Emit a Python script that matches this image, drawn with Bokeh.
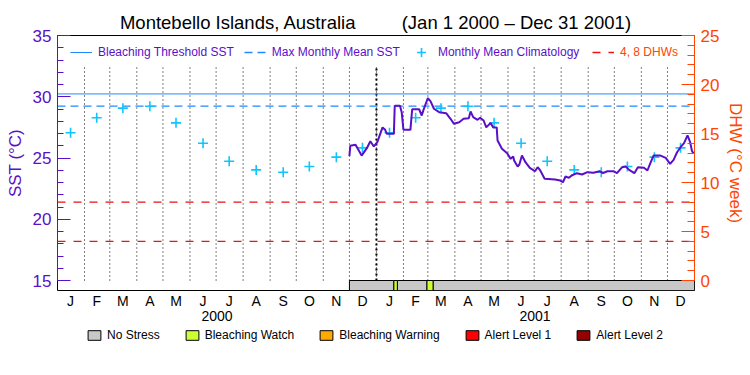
import pandas as pd
from bokeh.plotting import figure
from bokeh.layouts import column
from bokeh.models import (Range1d, LinearAxis, FixedTicker, Legend, LegendItem,
                          ColumnDataSource, Title)
from bokeh.embed import file_html
from bokeh.resources import INLINE

# ---------------- data ----------------
month_letters = ["J", "F", "M", "A", "M", "J", "J", "A", "S", "O", "N", "D"]
year_labels = ["2000", "2001"]
clim_sst = [27.06, 28.28, 29.07, 29.23, 27.87, 26.21, 24.74, 24.03, 23.84, 24.31, 25.07, 25.83]
mmm_sst = 29.23
threshold_sst = 30.23
dhw_levels = [4, 8]

# days since 2000-01-01 and SST (deg C)
sst_day = [335, 336, 342, 349, 355, 359, 363, 367, 373, 376, 378, 386, 387, 393, 395, 397,
           405, 407, 415, 418, 420, 425, 428, 432, 438, 446, 451, 455, 461, 466, 472, 474,
           477, 482, 485, 489, 492, 497, 500, 504, 505, 510, 516, 520, 523, 524, 528, 530,
           533, 537, 542, 548, 551, 554, 559, 571, 577, 580, 583, 587, 590, 596, 602, 608,
           615, 622, 626, 631, 638, 642, 648, 652, 656, 662, 666, 673, 677, 680, 684, 692,
           698, 703, 707, 711, 715, 719, 723, 726, 728, 730]
sst_val = [25.15, 26.00, 26.08, 25.20, 25.80, 26.37, 25.94, 26.30, 27.50, 27.30, 26.97, 26.97,
           29.26, 29.26, 28.74, 27.30, 27.30, 28.98, 28.98, 28.47, 28.93, 29.88, 29.64, 29.02,
           28.74, 28.66, 28.20, 27.79, 27.92, 28.20, 28.25, 28.80, 28.33, 28.12, 28.28, 28.06,
           27.50, 27.85, 27.50, 27.50, 26.43, 25.75, 25.39, 24.93, 25.12, 24.80, 24.30, 24.47,
           25.20, 24.66, 24.20, 23.92, 24.25, 23.98, 23.30, 23.24, 23.16, 23.02, 23.49, 23.38,
           23.57, 23.76, 23.65, 23.84, 23.80, 23.92, 23.76, 23.92, 23.92, 23.76, 24.25, 24.30,
           24.03, 23.76, 24.25, 24.20, 23.98, 24.52, 25.20, 25.20, 25.01, 24.52, 24.85, 25.47,
           25.88, 26.21, 26.84, 26.30, 25.60, 25.34]

stress_start = [335, 386, 390, 424, 431]
stress_end = [386, 390, 424, 431, 731]
stress_level = [0, 1, 0, 1, 0]
stress_names = ["No Stress", "Bleaching Watch", "Bleaching Warning", "Alert Level 1", "Alert Level 2"]
stress_colors = ["#C8C8C8", "#CCFF33", "#FFAA00", "#FF0000", "#960000"]

# ---------------- calendar helpers ----------------
base = pd.Timestamp("2000-01-01")
mstarts = pd.date_range("2000-01-01", periods=25, freq="MS")
mdays = [(d - base).days for d in mstarts]
mid_days = [mdays[i] + (mdays[i + 1] - mdays[i]) // 2 for i in range(24)]
boundaries = mdays[1:24]
ystarts = [(pd.Timestamp(y + "-01-01") - base).days for y in ["2000", "2001", "2002"]]
year_mid = [(ystarts[i] + ystarts[i + 1]) // 2 for i in range(2)]
x_end = mdays[24]

# ---------------- styling ----------------
PURPLE = "#5A0FC8"
ORANGE = "#FF4500"
BLUE = "#1E8CFF"
CYAN = "#10C4FF"
RED = "#EE1111"
FONT = "Liberation Sans"

px_per_deg = 245 / 20.0
y_bottom = 15 - 10 / px_per_deg

p = figure(width=750, height=325, x_range=Range1d(0, x_end), y_range=Range1d(y_bottom, 35),
           output_backend="svg", toolbar_location=None, x_axis_type=None, y_axis_type=None,
           min_border_left=57, min_border_right=56, min_border_top=35, min_border_bottom=35)
p.extra_y_ranges = {"dhw": Range1d((y_bottom - 15) * 1.25, 25)}
p.outline_line_color = "black"
p.outline_line_width = 1
p.background_fill_color = "white"
p.border_fill_color = "white"

p.title = Title(text="Montebello Islands, Australia" + "\u00a0" * 9 + "(Jan 1 2000 \u2013 Dec 31 2001)",
                align="center", text_font=FONT, text_font_size="18.5px",
                text_font_style="normal", text_color="black", standoff=6)

# left axis
yl = LinearAxis(ticker=FixedTicker(ticks=[15, 20, 25, 30, 35], minor_ticks=list(range(15, 36))),
                bounds=(15, 35), axis_label="SST (\u00b0C)")
yl.axis_line_color = PURPLE
yl.major_tick_line_color = PURPLE
yl.minor_tick_line_color = PURPLE
yl.major_tick_in = 13
yl.major_tick_out = 0
yl.minor_tick_in = 6
yl.minor_tick_out = 0
yl.major_label_text_color = PURPLE
yl.major_label_text_font = FONT
yl.major_label_text_font_size = "17px"
yl.major_label_standoff = 6
yl.axis_label_text_color = PURPLE
yl.axis_label_text_font = FONT
yl.axis_label_text_font_size = "17px"
yl.axis_label_text_font_style = "normal"
yl.axis_label_standoff = 5
p.add_layout(yl, "left")

# right axis
yr = LinearAxis(y_range_name="dhw",
                ticker=FixedTicker(ticks=[0, 5, 10, 15, 20, 25], minor_ticks=list(range(0, 26))),
                bounds=(0, 25), axis_label="DHW (\u00b0C week)")
yr.axis_line_color = ORANGE
yr.major_tick_line_color = ORANGE
yr.minor_tick_line_color = ORANGE
yr.major_tick_in = 13
yr.major_tick_out = 0
yr.minor_tick_in = 7
yr.minor_tick_out = 0
yr.major_label_text_color = ORANGE
yr.major_label_text_font = FONT
yr.major_label_text_font_size = "17px"
yr.major_label_standoff = 6
yr.axis_label_text_color = ORANGE
yr.axis_label_text_font = FONT
yr.axis_label_text_font_size = "17px"
yr.axis_label_text_font_style = "normal"
yr.axis_label_standoff = 4
p.add_layout(yr, "right")

# month axis and year axis
def bottom_axis(ticks, labels, standoff):
    ax = LinearAxis(ticker=FixedTicker(ticks=ticks, minor_ticks=[]),
                    major_label_overrides={t: l for t, l in zip(ticks, labels)})
    ax.axis_line_color = None
    ax.major_tick_line_color = None
    ax.minor_tick_line_color = None
    ax.major_tick_in = 0
    ax.major_tick_out = 0
    ax.major_label_standoff = standoff
    ax.major_label_text_font = FONT
    ax.major_label_text_font_size = "14px"
    ax.major_label_text_color = "black"
    return ax

p.add_layout(bottom_axis(mid_days, month_letters * 2, 2), "below")
p.add_layout(bottom_axis(year_mid, year_labels, -1), "below")

# month boundary dotted lines
p.segment(x0=boundaries, y0=[15] * len(boundaries), x1=boundaries, y1=[32.5] * len(boundaries),
          line_color="black", line_dash="1 3", line_width=1)
yb = [ystarts[1]]
p.segment(x0=yb, y0=[15], x1=yb, y1=[32.5], line_color="black", line_dash="2 3", line_width=2)

# reference lines
r_thr = p.line(x=[0, x_end], y=[threshold_sst] * 2, line_color=BLUE, line_width=1)
r_mmm = p.line(x=[0, x_end], y=[mmm_sst] * 2, line_color=BLUE, line_width=1.3, line_dash="8 5")
r_dhw = p.multi_line(xs=[[0, x_end] for _ in dhw_levels], ys=[[d, d] for d in dhw_levels],
                     y_range_name="dhw", line_color=RED, line_width=1.3, line_dash="8 8")

# climatology crosses
r_clim = p.scatter(x=mid_days, y=clim_sst * 2, marker="cross", size=10,
                   line_color=CYAN, line_width=1.6)

# SST line
p.line(x=sst_day, y=sst_val, line_color=PURPLE, line_width=2)

# stress bar
for lvl, col in enumerate(stress_colors):
    idx = [i for i, s in enumerate(stress_level) if s == lvl]
    if not idx:
        continue
    src = ColumnDataSource(dict(left=[stress_start[i] for i in idx],
                                right=[stress_end[i] for i in idx]))
    p.quad(left="left", right="right", bottom=y_bottom, top=15, source=src,
           fill_color=col, line_color="black", line_width=1)

# top legends
leg1 = Legend(items=[LegendItem(label="Bleaching Threshold SST", renderers=[r_thr]),
                     LegendItem(label="Max Monthly Mean SST", renderers=[r_mmm]),
                     LegendItem(label="Monthly Mean Climatology", renderers=[r_clim])],
              location=(13, 227), orientation="horizontal")
leg2 = Legend(items=[LegendItem(label="4, 8 DHWs", renderers=[r_dhw])],
              location=(535, 231), orientation="horizontal")
for lg, colr in [(leg1, PURPLE), (leg2, ORANGE)]:
    lg.label_text_color = colr
    lg.label_text_font = FONT
    lg.label_text_font_size = "12px"
    lg.glyph_width = 22
    lg.glyph_height = 14
    lg.label_height = 14
    lg.label_standoff = 6
    lg.spacing = 10
    lg.padding = 0
    lg.margin = 0
    lg.border_line_alpha = 0
    lg.background_fill_alpha = 0
    p.add_layout(lg)
leg1.glyph_height = 22

# ---------------- stress legend strip ----------------
q = figure(width=750, height=50, x_range=Range1d(0, 1), y_range=Range1d(0, 1),
           output_backend="svg", toolbar_location=None, x_axis_type=None, y_axis_type=None,
           min_border=0)
q.outline_line_color = None
q.title.visible = False
swatches = []
for col in stress_colors:
    src = ColumnDataSource(dict(left=[float("nan")], right=[float("nan")]))
    swatches.append(q.quad(left="left", right="right", bottom=0, top=0, source=src,
                           fill_color=col, line_color="black", line_width=1))
leg3 = Legend(items=[LegendItem(label=n, renderers=[r]) for n, r in zip(stress_names, swatches)],
              orientation="horizontal", location=(29, 33))
leg3.label_text_font = FONT
leg3.label_text_font_size = "12px"
leg3.label_text_color = "black"
leg3.glyph_width = 16
leg3.glyph_height = 12
leg3.label_height = 14
leg3.label_standoff = 5
leg3.spacing = 24
leg3.padding = 0
leg3.margin = 0
leg3.border_line_alpha = 0
leg3.background_fill_alpha = 0
q.add_layout(leg3)

open("out.html", "w").write(file_html(column(p, q, spacing=0), INLINE))
